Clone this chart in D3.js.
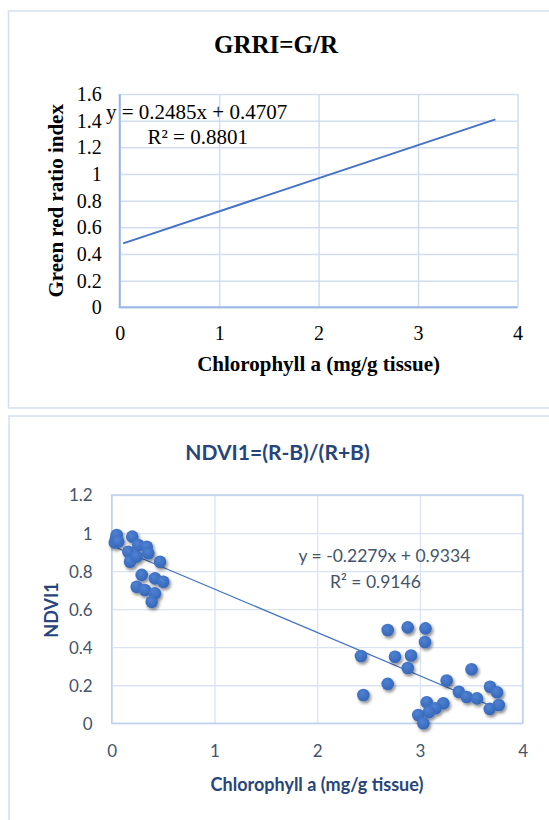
<!DOCTYPE html>
<meta charset="utf-8">
<style>
  body { margin: 0; background: #fff; }
</style>
<script src="https://cdn.jsdelivr.net/npm/d3@7"></script>
<body>
<script>
// ---- data ----
var xTicks = [0, 1, 2, 3, 4];
var grriYTicks = [0, 0.2, 0.4, 0.6, 0.8, 1, 1.2, 1.4, 1.6];
var grriYLabels = ["0", "0.2", "0.4", "0.6", "0.8", "1", "1.2", "1.4", "1.6"];
var grriCoef = [0.2485, 0.4707];      // slope, intercept
var grriRange = [0.035, 3.778];       // x extent of trendline
var grriText = ["y = 0.2485x + 0.4707", "R\u00B2 = 0.8801"];

var ndviYTicks = [0, 0.2, 0.4, 0.6, 0.8, 1, 1.2];
var ndviYLabels = ["0", "0.2", "0.4", "0.6", "0.8", "1", "1.2"];
var ndviCoef = [-0.2279, 0.9334];
var ndviRange = [0.03, 3.77];
var ndviText = ["y = -0.2279x + 0.9334", "R\u00B2 = 0.9146"];

// chlorophyll a (x) and NDVI1 (y)
var ndviX = [0.03, 0.04, 0.049, 0.064, 0.200, 0.162, 0.259, 0.341, 0.356, 0.178,
  0.243, 0.470, 0.292, 0.421, 0.502, 0.243, 0.324, 0.421, 0.389,
  2.426, 2.449, 2.686, 2.881, 3.054, 3.049, 2.757, 2.913, 2.881, 2.686,
  3.502, 3.260, 3.378, 3.455, 3.555, 3.682, 3.750, 3.767, 3.679, 3.066,
  3.227, 3.151, 3.088, 2.984, 3.033];
var ndviY = [0.95, 0.97, 0.99, 0.955, 0.981, 0.902, 0.937, 0.928, 0.894, 0.849,
  0.876, 0.849, 0.780, 0.762, 0.744, 0.718, 0.701, 0.683, 0.639,
  0.354, 0.149, 0.490, 0.504, 0.499, 0.427, 0.350, 0.356, 0.291, 0.207,
  0.284, 0.225, 0.166, 0.138, 0.131, 0.192, 0.163, 0.096, 0.076, 0.111,
  0.105, 0.079, 0.059, 0.044, 0.0];

var svg = d3.select("body").append("svg")
  .attr("width", 549)
  .attr("height", 820);

var defs = svg.append("defs");
var shadow = defs.append("filter").attr("id", "shadow")
  .attr("x", "-50%").attr("y", "-50%").attr("width", "200%").attr("height", "200%");
shadow.append("feDropShadow")
  .attr("dx", 1.5).attr("dy", 2.2).attr("stdDeviation", 1.4)
  .attr("flood-color", "#000").attr("flood-opacity", 0.45);
var grad = defs.append("radialGradient").attr("id", "dot")
  .attr("cx", "40%").attr("cy", "35%").attr("r", "65%");
grad.append("stop").attr("offset", "0%").attr("stop-color", "#4f82d2");
grad.append("stop").attr("offset", "100%").attr("stop-color", "#3566b9");

//Chart frames
svg.append("rect")
  .attr("x", 8.5).attr("y", 11).attr("width", 560).attr("height", 397)
  .attr("fill", "none").attr("stroke", "#d3deef").attr("stroke-width", 1.5);
svg.append("rect")
  .attr("x", 9).attr("y", 416).attr("width", 560).attr("height", 420)
  .attr("fill", "none").attr("stroke", "#d3deef").attr("stroke-width", 1.5);

// ================= GRRI chart =================
var serif = "'Liberation Serif', 'Times New Roman', serif";
var x1 = d3.scaleLinear().domain([0, 4]).range([119.7, 517.5]);
var y1 = d3.scaleLinear().domain([0, 1.6]).range([307.3, 94]);

var g1 = svg.append("g");

//Y grid + labels
g1.append("g")
  .attr("transform", "translate(" + x1(0) + ",0)")
  .call(d3.axisLeft(y1).tickValues(grriYTicks)
    .tickSize(-(x1(4) - x1(0))).tickPadding(18)
    .tickFormat(function(d, i) { return grriYLabels[i]; }))
  .call(function(g) { g.select(".domain").remove(); })
  .call(function(g) {
    g.selectAll("line").attr("stroke", "#d2ddf0").attr("stroke-width", 1.5);
    g.selectAll("text").attr("font-family", serif).attr("font-size", 20)
      .attr("fill", "#000").attr("dy", "0.32em");
  });

//X grid + labels
g1.append("g")
  .attr("transform", "translate(0," + y1(0) + ")")
  .call(d3.axisBottom(x1).tickValues(xTicks)
    .tickSize(-(y1(0) - y1(1.6))).tickPadding(18.5)
    .tickFormat(d3.format("d")))
  .call(function(g) { g.select(".domain").remove(); })
  .call(function(g) {
    g.selectAll("line").attr("stroke", "#d2ddf0").attr("stroke-width", 1.5);
    g.selectAll("text").attr("font-family", serif).attr("font-size", 20)
      .attr("fill", "#000");
  });

//axis lines
g1.append("path")
  .attr("d", "M" + x1(0) + "," + y1(1.6) + "V" + y1(0) + "H" + x1(4))
  .attr("fill", "none").attr("stroke", "#9ab8e4").attr("stroke-width", 2);

//trendline
g1.append("line")
  .attr("x1", x1(grriRange[0]))
  .attr("y1", y1(grriCoef[0] * grriRange[0] + grriCoef[1]))
  .attr("x2", x1(grriRange[1]))
  .attr("y2", y1(grriCoef[0] * grriRange[1] + grriCoef[1]))
  .attr("stroke", "#4472c4").attr("stroke-width", 2);

//titles
g1.append("text")
  .attr("x", 276).attr("y", 53)
  .attr("text-anchor", "middle")
  .attr("font-family", serif).attr("font-weight", "bold").attr("font-size", 25)
  .text("GRRI=G/R");

g1.append("text")
  .attr("transform", "translate(56,200.8) rotate(-90)")
  .attr("text-anchor", "middle").attr("dy", "0.35em")
  .attr("font-family", serif).attr("font-weight", "bold").attr("font-size", 21)
  .text("Green red ratio index");

g1.append("text")
  .attr("x", 318.6).attr("y", 371)
  .attr("text-anchor", "middle")
  .attr("font-family", serif).attr("font-weight", "bold").attr("font-size", 21)
  .text("Chlorophyll a (mg/g tissue)");

g1.append("text")
  .attr("x", 106).attr("y", 118.5)
  .attr("font-family", serif).attr("font-size", 21)
  .text(grriText[0]);
g1.append("text")
  .attr("x", 147.5).attr("y", 143.5)
  .attr("font-family", serif).attr("font-size", 21)
  .text(grriText[1]);

// ================= NDVI1 chart =================
var sans = "Lato, 'Open Sans', sans-serif";
var x2 = d3.scaleLinear().domain([0, 4]).range([111.7, 522.7]);
var y2 = d3.scaleLinear().domain([0, 1.2]).range([723.3, 495]);

var g2 = svg.append("g");

g2.append("g")
  .attr("transform", "translate(" + x2(0) + ",0)")
  .call(d3.axisLeft(y2).tickValues(ndviYTicks)
    .tickSize(-(x2(4) - x2(0))).tickPadding(19)
    .tickFormat(function(d, i) { return ndviYLabels[i]; }))
  .call(function(g) { g.select(".domain").remove(); })
  .call(function(g) {
    g.selectAll("line").attr("stroke", "#d9e3f4").attr("stroke-width", 1.3);
    g.selectAll("text").attr("font-family", sans).attr("font-size", 17)
      .attr("fill", "#44546a").attr("dy", "0.35em");
  });

g2.append("g")
  .attr("transform", "translate(0," + y2(0) + ")")
  .call(d3.axisBottom(x2).tickValues(xTicks)
    .tickSize(-(y2(0) - y2(1.2))).tickPadding(21.5)
    .tickFormat(d3.format("d")))
  .call(function(g) { g.select(".domain").remove(); })
  .call(function(g) {
    g.selectAll("line").attr("stroke", "#d9e3f4").attr("stroke-width", 1.3);
    g.selectAll("text").attr("font-family", sans).attr("font-size", 17)
      .attr("fill", "#44546a");
  });

//plot border
g2.append("rect")
  .attr("x", x2(0)).attr("y", y2(1.2))
  .attr("width", x2(4) - x2(0)).attr("height", y2(0) - y2(1.2))
  .attr("fill", "none").attr("stroke", "#c0d2ee").attr("stroke-width", 1.5);

//trendline
g2.append("line")
  .attr("x1", x2(ndviRange[0]))
  .attr("y1", y2(ndviCoef[0] * ndviRange[0] + ndviCoef[1]))
  .attr("x2", x2(ndviRange[1]))
  .attr("y2", y2(ndviCoef[0] * ndviRange[1] + ndviCoef[1]))
  .attr("stroke", "#4472c4").attr("stroke-width", 1.2);

//points
g2.append("g")
  .attr("filter", "url(#shadow)")
  .selectAll("circle")
  .data(ndviX)
  .enter()
  .append("circle")
  .attr("cx", function(d) { return x2(d); })
  .attr("cy", function(d, i) { return y2(ndviY[i]); })
  .attr("r", 6.3)
  .attr("fill", "url(#dot)");

//texts
g2.append("text")
  .attr("x", 277.5).attr("y", 460)
  .attr("text-anchor", "middle")
  .attr("font-family", sans).attr("font-weight", "bold").attr("font-size", 21)
  .attr("fill", "#27457a")
  .text("NDVI1=(R-B)/(R+B)");

g2.append("text")
  .attr("transform", "translate(52,610) rotate(-90)")
  .attr("text-anchor", "middle").attr("dy", "0.35em")
  .attr("font-family", sans).attr("font-weight", "bold").attr("font-size", 18)
  .attr("fill", "#27457a")
  .text("NDVI1");

g2.append("text")
  .attr("x", 317).attr("y", 790.5)
  .attr("text-anchor", "middle")
  .attr("font-family", sans).attr("font-weight", "bold").attr("font-size", 18)
  .attr("fill", "#27457a")
  .text("Chlorophyll a (mg/g tissue)");

g2.append("text")
  .attr("x", 298.5).attr("y", 561.5)
  .attr("font-family", sans).attr("font-size", 17.5)
  .attr("fill", "#44546a")
  .text(ndviText[0]);
g2.append("text")
  .attr("x", 330).attr("y", 588)
  .attr("font-family", sans).attr("font-size", 17.5)
  .attr("fill", "#44546a")
  .text(ndviText[1]);
</script>
</body>
